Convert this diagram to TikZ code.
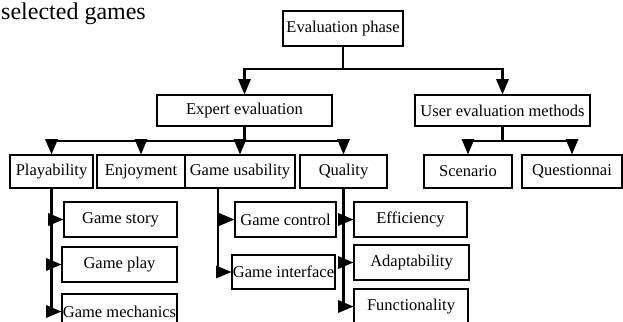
\documentclass[tikz,border=0pt]{standalone}
\usepackage{fontspec}
\setmainfont{Liberation Serif}
\usetikzlibrary{arrows}

\begin{document}
\begin{tikzpicture}[x=1pt,y=-1pt,
  box/.style={draw,line width=1.3pt,inner sep=0pt,align=center,
    font=\fontsize{16.5}{18}\selectfont},
  link/.style={line width=2.6pt},
  arr/.style={link,-triangle 45}]
\clip (0,0) rectangle (623,321);
%-------->caption<--------------
\node[anchor=base west,inner sep=0pt,font=\fontsize{24}{26}\selectfont] (cap) at (1,19.5) {selected games};
%-------->top nodes<--------------
\node[box,minimum width=120pt,minimum height=35pt] (evalphase) at (343,28.5) {Evaluation phase};
\node[box,minimum width=175pt,minimum height=31pt] (expert) at (244.5,110.5) {Expert evaluation};
\node[box,minimum width=175pt,minimum height=31pt] (user) at (502.5,110.5) {User evaluation methods};
%-------->middle nodes<--------------
\node[box,minimum width=83pt,minimum height=33pt] (play) at (51.5,171.5) {Playability};
\node[box,minimum width=88pt,minimum height=33pt] (enjoy) at (141,171.5) {Enjoyment};
\node[box,minimum width=110pt,minimum height=33pt] (usab) at (240,171.5) {Game usability};
\node[box,minimum width=87pt,minimum height=33pt] (quality) at (343.5,171.5) {Quality};
\node[box,minimum width=88pt,minimum height=33pt] (scen) at (468,171.5) {Scenario};
\node[box,minimum width=100pt,minimum height=33pt] (quest) at (572,171.5) {Questionnai};
%-------->bottom nodes<--------------
\node[box,minimum width=113pt,minimum height=35pt] (story) at (120.5,219.5) {Game story};
\node[box,minimum width=115pt,minimum height=35pt] (gplay) at (119.5,264.5) {Game play};
\node[box,minimum width=115pt,minimum height=35pt] (mech) at (119.5,311.5) {Game mechanics};
\node[box,minimum width=101pt,minimum height=35pt] (control) at (285.5,219.5) {Game control};
\node[box,minimum width=103pt,minimum height=34pt] (iface) at (283.5,272) {Game interface};
\node[box,minimum width=113pt,minimum height=35pt] (eff) at (410.5,219.5) {Efficiency};
\node[box,minimum width=115pt,minimum height=35pt] (adapt) at (411.5,262.5) {Adaptability};
\node[box,minimum width=114pt,minimum height=35pt] (func) at (411,306.5) {Functionality};
%-------->junctions<--------------
\coordinate (j1) at (evalphase.south |- 0,69);
\coordinate (j2) at (expert.south |- 0,141);
\coordinate (j3) at (user.south |- 0,141);
%------------->top arrows<------------------
\draw[link] (evalphase.south) -- (j1);
\draw[arr] (j1) -| (expert.north);
\draw[arr] (j1) -| (user.north);
%------------->middle arrows<------------------
\draw[link] (expert.south) -- (j2);
\draw[arr] (j2) -| (play.north);
\draw[arr] (j2) -| (enjoy.north);
\draw[arr] (j2) -| (usab.north);
\draw[arr] (j2) -| (quality.north);
\draw[link] (user.south) -- (j3);
\draw[arr] (j3) -| (scen.north);
\draw[arr] (j3) -| (quest.north);
%------------->bottom arrows<------------------
\draw[arr] (play.south) |- (story.west);
\draw[arr] (play.south) |- (gplay.west);
\draw[arr] (play.south) |- (mech.west);
\draw[arr] ([xshift=-22pt]usab.south) |- (control.west);
\draw[arr] ([xshift=-22pt]usab.south) |- (iface.west);
\draw[arr] (quality.south) |- (eff.west);
\draw[arr] (quality.south) |- (adapt.west);
\draw[arr] (quality.south) |- (func.west);
\end{tikzpicture}
\end{document}
